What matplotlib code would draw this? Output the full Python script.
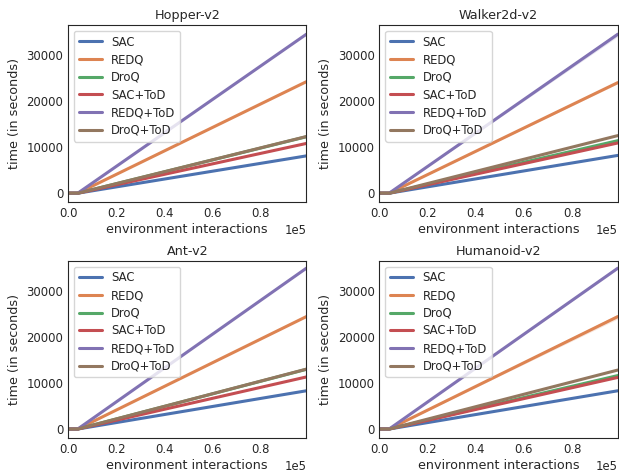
import matplotlib
matplotlib.use("Agg")
import matplotlib.pyplot as plt
import seaborn as sns
import numpy as np

sns.set_style("white")
plt.rcParams['font.family'] = ['DejaVu Sans']
plt.rcParams.update({
    "xtick.major.size": 0,
    "ytick.major.size": 0,
    "xtick.major.pad": 3.5,
    "ytick.major.pad": 3.5,
    "axes.titlesize": 9.2,
    "axes.labelsize": 9.2,
    "xtick.labelsize": 8.4,
    "ytick.labelsize": 8.4,
    "legend.fontsize": 8.4,
    "legend.labelspacing": 0.4,
})

envs = ["Hopper-v2", "Walker2d-v2", "Ant-v2", "Humanoid-v2"]
methods = ["SAC", "REDQ", "DroQ", "SAC+ToD", "REDQ+ToD", "DroQ+ToD"]
colors = ["#4C72B0", "#DD8452", "#55A868", "#C44E52", "#8172B3", "#937860"]

# environment interactions at which wall-clock time was logged
steps = [0, 4000, 99000]

# wall-clock time (seconds) at each logged step, per environment and method
hopper_time = {
    "SAC":      [0, 0, 8100],
    "REDQ":     [0, 0, 24200],
    "DroQ":     [0, 0, 12250],
    "SAC+ToD":  [0, 0, 10800],
    "REDQ+ToD": [0, 0, 34500],
    "DroQ+ToD": [0, 0, 12300],
}
walker_time = {
    "SAC":      [0, 0, 8200],
    "REDQ":     [0, 0, 24000],
    "DroQ":     [0, 0, 11400],
    "SAC+ToD":  [0, 0, 10900],
    "REDQ+ToD": [0, 0, 34500],
    "DroQ+ToD": [0, 0, 12500],
}
ant_time = {
    "SAC":      [0, 0, 8300],
    "REDQ":     [0, 0, 24400],
    "DroQ":     [0, 0, 12950],
    "SAC+ToD":  [0, 0, 11300],
    "REDQ+ToD": [0, 0, 34900],
    "DroQ+ToD": [0, 0, 13000],
}
humanoid_time = {
    "SAC":      [0, 0, 8300],
    "REDQ":     [0, 0, 24400],
    "DroQ":     [0, 0, 11600],
    "SAC+ToD":  [0, 0, 11200],
    "REDQ+ToD": [0, 0, 34900],
    "DroQ+ToD": [0, 0, 12800],
}
# spread across seeds at the final step
walker_spread = {"REDQ+ToD": 500, "REDQ": 250}
humanoid_spread = {"REDQ": 500, "REDQ+ToD": 250}

all_times = [hopper_time, walker_time, ant_time, humanoid_time]
all_spread = [{}, walker_spread, {}, humanoid_spread]

fig, axes = plt.subplots(2, 2, figsize=(6.19, 4.72), dpi=100)
fig.subplots_adjust(left=0.11, right=0.998, top=0.947, bottom=0.072,
                    wspace=0.307, hspace=0.331)

x = np.array(steps, dtype=float)
for ax, env, times, spread in zip(axes.flat, envs, all_times, all_spread):
    for m, c in zip(methods, colors):
        y = np.array(times[m], dtype=float)
        ax.plot(x, y, color=c, lw=2.2, label=m)
        if m in spread:
            s = spread[m] * (x / x[-1])
            ax.fill_between(x, y - s, y + s, color=c, alpha=0.2, lw=0)
    ax.set_xlim(0, steps[-1])
    ax.set_ylim(-1950, 36500)
    ax.set_yticks([0, 10000, 20000, 30000])
    ax.ticklabel_format(axis='x', style='sci', scilimits=(5, 5))
    ax.set_title(env, pad=4)
    ax.set_xlabel("environment interactions", labelpad=2)
    ax.set_ylabel("time (in seconds)")
    ax.legend(loc="upper left")

fig.savefig("out.png", dpi=100)
